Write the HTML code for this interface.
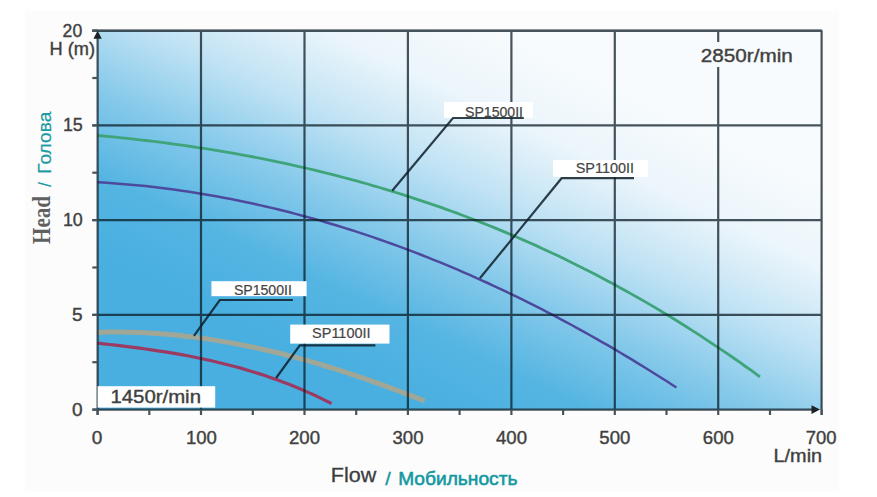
<!DOCTYPE html>
<html><head><meta charset="utf-8"><style>
html,body{margin:0;padding:0;background:#ffffff;}
svg{display:block;}
text{font-family:"Liberation Sans",sans-serif;}
</style></head><body>
<svg width="877" height="497" viewBox="0 0 877 497">
<defs>
<linearGradient id="dg" gradientUnits="userSpaceOnUse" x1="460.0" y1="431.8" x2="623.0" y2="90.1">
<stop offset="0" stop-color="#48afe0"/>
<stop offset="0.2" stop-color="#55b5e2"/>
<stop offset="0.4" stop-color="#85c9ea"/>
<stop offset="0.6" stop-color="#bfe2f4"/>
<stop offset="0.8" stop-color="#ebf5fb"/>
<stop offset="1.0" stop-color="#f7fbfd"/>
</linearGradient>
</defs>
<rect x="0" y="0" width="877" height="497" fill="#ffffff"/>
<rect x="25" y="11" width="814" height="481" fill="#fcfcfc"/>
<rect x="97.6" y="30.6" width="724.1" height="379" fill="url(#dg)"/>
<path d="M97.6,135.5 L103.6,136.0 L109.6,136.6 L115.6,137.2 L121.6,137.8 L127.6,138.4 L133.6,139.1 L139.6,139.8 L145.6,140.5 L151.6,141.2 L157.6,141.9 L163.6,142.7 L169.6,143.5 L175.6,144.3 L181.6,145.1 L187.6,146.0 L193.6,146.8 L199.6,147.8 L205.6,148.7 L211.6,149.6 L217.6,150.6 L223.6,151.6 L229.6,152.7 L235.6,153.7 L241.6,154.8 L247.6,155.9 L253.6,157.0 L259.6,158.2 L265.6,159.4 L271.6,160.6 L277.6,161.8 L283.6,163.1 L289.6,164.4 L295.6,165.8 L301.6,167.1 L307.6,168.5 L313.6,169.9 L319.6,171.4 L325.6,172.8 L331.6,174.3 L337.6,175.9 L343.6,177.5 L349.6,179.1 L355.6,180.7 L361.6,182.3 L367.6,184.0 L373.6,185.8 L379.6,187.5 L385.6,189.3 L391.6,191.1 L397.6,193.0 L403.6,194.9 L409.6,196.8 L415.6,198.8 L421.6,200.8 L427.6,202.8 L433.6,204.8 L439.6,206.9 L445.6,209.1 L451.6,211.2 L457.6,213.4 L463.6,215.7 L469.6,218.0 L475.6,220.3 L481.6,222.6 L487.6,225.0 L493.6,227.4 L499.6,229.9 L505.6,232.4 L511.6,234.9 L517.6,237.5 L523.6,240.1 L529.6,242.8 L535.6,245.4 L541.6,248.2 L547.6,251.0 L553.6,253.8 L559.6,256.6 L565.6,259.5 L571.6,262.4 L577.6,265.4 L583.6,268.4 L589.6,271.5 L595.6,274.6 L601.6,277.7 L607.6,280.9 L613.6,284.1 L619.6,287.4 L625.6,290.7 L631.6,294.1 L637.6,297.5 L643.6,300.9 L649.6,304.4 L655.6,307.9 L661.6,311.5 L667.6,315.1 L673.6,318.8 L679.6,322.5 L685.6,326.3 L691.6,330.1 L697.6,333.9 L703.6,337.8 L709.6,341.8 L715.6,345.8 L721.6,349.8 L727.6,353.9 L733.6,358.0 L739.6,362.2 L745.6,366.5 L751.6,370.7 L757.6,375.1 L760.0,376.8" stroke="#40a47b" stroke-width="2.8" fill="none"/>
<path d="M97.6,182.2 L103.6,182.5 L109.6,182.9 L115.6,183.4 L121.6,183.9 L127.6,184.4 L133.6,184.9 L139.6,185.5 L145.6,186.1 L151.6,186.8 L157.6,187.5 L163.6,188.2 L169.6,189.0 L175.6,189.8 L181.6,190.7 L187.6,191.6 L193.6,192.5 L199.6,193.4 L205.6,194.4 L211.6,195.5 L217.6,196.5 L223.6,197.7 L229.6,198.8 L235.6,200.0 L241.6,201.2 L247.6,202.5 L253.6,203.8 L259.6,205.1 L265.6,206.5 L271.6,207.9 L277.6,209.3 L283.6,210.8 L289.6,212.3 L295.6,213.9 L301.6,215.5 L307.6,217.1 L313.6,218.7 L319.6,220.4 L325.6,222.2 L331.6,224.0 L337.6,225.8 L343.6,227.6 L349.6,229.5 L355.6,231.4 L361.6,233.4 L367.6,235.4 L373.6,237.4 L379.6,239.5 L385.6,241.6 L391.6,243.7 L397.6,245.9 L403.6,248.1 L409.6,250.4 L415.6,252.7 L421.6,255.0 L427.6,257.4 L433.6,259.8 L439.6,262.2 L445.6,264.7 L451.6,267.2 L457.6,269.7 L463.6,272.3 L469.6,274.9 L475.6,277.6 L481.6,280.3 L487.6,283.0 L493.6,285.8 L499.6,288.6 L505.6,291.4 L511.6,294.3 L517.6,297.2 L523.6,300.2 L529.6,303.1 L535.6,306.2 L541.6,309.2 L547.6,312.3 L553.6,315.4 L559.6,318.6 L565.6,321.8 L571.6,325.0 L577.6,328.3 L583.6,331.6 L589.6,335.0 L595.6,338.4 L601.6,341.8 L607.6,345.2 L613.6,348.7 L619.6,352.3 L625.6,355.8 L631.6,359.4 L637.6,363.1 L643.6,366.7 L649.6,370.5 L655.6,374.2 L661.6,378.0 L667.6,381.8 L673.6,385.7 L676.4,387.5" stroke="#4d4a9e" stroke-width="2.5" fill="none"/>
<path d="M97.6,332.4 L103.6,332.2 L109.6,332.1 L115.6,332.1 L121.6,332.1 L127.6,332.2 L133.6,332.3 L139.6,332.6 L145.6,332.8 L151.6,333.2 L157.6,333.5 L163.6,334.0 L169.6,334.5 L175.6,335.1 L181.6,335.7 L187.6,336.4 L193.6,337.1 L199.6,337.9 L205.6,338.7 L211.6,339.6 L217.6,340.6 L223.6,341.6 L229.6,342.6 L235.6,343.7 L241.6,344.9 L247.6,346.1 L253.6,347.3 L259.6,348.6 L265.6,350.0 L271.6,351.4 L277.6,352.8 L283.6,354.3 L289.6,355.9 L295.6,357.4 L301.6,359.1 L307.6,360.7 L313.6,362.4 L319.6,364.2 L325.6,366.0 L331.6,367.8 L337.6,369.7 L343.6,371.6 L349.6,373.6 L355.6,375.6 L361.6,377.6 L367.6,379.7 L373.6,381.8 L379.6,383.9 L385.6,386.1 L391.6,388.3 L397.6,390.5 L403.6,392.8 L409.6,395.1 L415.6,397.4 L421.6,399.8 L424.6,401.0" stroke="#b0a68a" stroke-width="5" fill="none" opacity="0.85"/>
<path d="M97.6,343.2 L103.6,343.8 L109.6,344.5 L115.6,345.2 L121.6,345.9 L127.6,346.6 L133.6,347.4 L139.6,348.2 L145.6,349.0 L151.6,349.9 L157.6,350.8 L163.6,351.7 L169.6,352.7 L175.6,353.7 L181.6,354.7 L187.6,355.8 L193.6,357.0 L199.6,358.2 L205.6,359.5 L211.6,360.8 L217.6,362.2 L223.6,363.7 L229.6,365.2 L235.6,366.8 L241.6,368.4 L247.6,370.2 L253.6,372.0 L259.6,373.9 L265.6,375.8 L271.6,377.9 L277.6,380.0 L283.6,382.3 L289.6,384.6 L295.6,387.0 L301.6,389.5 L307.6,392.1 L313.6,394.8 L319.6,397.6 L325.6,400.6 L331.5,403.5" stroke="#9c3a62" stroke-width="3.2" fill="none"/>
<g opacity="0.74"><g stroke="#0a1a24" stroke-width="2.2" fill="none"><line x1="201.0" y1="30.6" x2="201.0" y2="409.6"/><line x1="304.5" y1="30.6" x2="304.5" y2="409.6"/><line x1="407.9" y1="30.6" x2="407.9" y2="409.6"/><line x1="511.4" y1="30.6" x2="511.4" y2="409.6"/><line x1="614.8" y1="30.6" x2="614.8" y2="409.6"/><line x1="718.2" y1="30.6" x2="718.2" y2="409.6"/><line x1="92.3" y1="314.9" x2="821.7" y2="314.9"/><line x1="92.3" y1="220.1" x2="821.7" y2="220.1"/><line x1="92.3" y1="125.4" x2="821.7" y2="125.4"/><line x1="92.3" y1="30.6" x2="821.7" y2="30.6"/></g>
<g stroke="#0a1a24" stroke-width="2.2" fill="none" stroke-linejoin="round"><line x1="97.6" y1="409.6" x2="97.6" y2="415"/><line x1="149.3" y1="409.6" x2="149.3" y2="415"/><line x1="201.0" y1="409.6" x2="201.0" y2="415"/><line x1="252.8" y1="409.6" x2="252.8" y2="415"/><line x1="304.5" y1="409.6" x2="304.5" y2="415"/><line x1="356.2" y1="409.6" x2="356.2" y2="415"/><line x1="407.9" y1="409.6" x2="407.9" y2="415"/><line x1="459.6" y1="409.6" x2="459.6" y2="415"/><line x1="511.4" y1="409.6" x2="511.4" y2="415"/><line x1="563.1" y1="409.6" x2="563.1" y2="415"/><line x1="614.8" y1="409.6" x2="614.8" y2="415"/><line x1="666.5" y1="409.6" x2="666.5" y2="415"/><line x1="718.2" y1="409.6" x2="718.2" y2="415"/><line x1="770.0" y1="409.6" x2="770.0" y2="415"/><line x1="821.7" y1="409.6" x2="821.7" y2="415"/><line x1="92.3" y1="409.6" x2="97.6" y2="409.6"/><line x1="92.3" y1="362.2" x2="97.6" y2="362.2"/><line x1="92.3" y1="314.9" x2="97.6" y2="314.9"/><line x1="92.3" y1="267.5" x2="97.6" y2="267.5"/><line x1="92.3" y1="220.1" x2="97.6" y2="220.1"/><line x1="92.3" y1="172.7" x2="97.6" y2="172.7"/><line x1="92.3" y1="125.4" x2="97.6" y2="125.4"/><line x1="92.3" y1="78.0" x2="97.6" y2="78.0"/><line x1="92.3" y1="30.6" x2="97.6" y2="30.6"/>
<line x1="97.6" y1="33" x2="97.6" y2="415"/>
<line x1="92.3" y1="409.6" x2="815" y2="409.6"/>
<path d="M92.3,30.8 L821.6,30.8 L821.6,415"/>
</g></g>
<path d="M97.6,30.8 L93.4,38.8 L101.8,38.8 Z" fill="#1c2226"/>
<path d="M820,409.6 L811.5,405.2 L811.5,414 Z" fill="#1c2226"/>
<!-- labels -->
<g fill="#ffffff">
<rect x="444" y="102" width="89" height="16"/>
<rect x="553" y="160" width="95" height="17"/>
<rect x="211.4" y="281.2" width="95.2" height="15"/>
<rect x="290.2" y="324.6" width="99.3" height="19"/>
<rect x="97.6" y="386.2" width="117.6" height="21.4"/>
<rect x="692" y="42" width="108" height="25" fill="#f8fbfd"/>
</g>
<g stroke="#0e1e2a" stroke-opacity="0.85" stroke-width="2.2" fill="none">
<path d="M392.2,190.7 L453,118 L523.8,118"/>
<path d="M479.9,278.3 L561.6,178.2 L634,178.2"/>
<path d="M193.9,335.8 L219.8,300 L292.9,300"/>
<path d="M276.1,378 L299.8,345.3 L375.4,345.3"/>
</g>
<g fill="#454545" font-size="14" stroke="#454545" stroke-width="0.2">
<text x="465" y="116.5" textLength="58" lengthAdjust="spacingAndGlyphs">SP1500II</text>
<text x="575.7" y="172.8" textLength="58.3" lengthAdjust="spacingAndGlyphs">SP1100II</text>
<text x="233.9" y="295" textLength="58" lengthAdjust="spacingAndGlyphs">SP1500II</text>
<text x="312.1" y="338.3" textLength="58.4" lengthAdjust="spacingAndGlyphs">SP1100II</text>
</g>
<g fill="#404040" font-size="19" stroke="#404040" stroke-width="0.4">
<text x="700.8" y="61.5" textLength="92" lengthAdjust="spacingAndGlyphs">2850r/min</text>
<text x="110.4" y="403" textLength="90.6" lengthAdjust="spacingAndGlyphs">1450r/min</text>
<text x="62.6" y="37" textLength="19.6" lengthAdjust="spacingAndGlyphs">20</text>
<text x="49.6" y="55" textLength="45.5" lengthAdjust="spacingAndGlyphs">H (m)</text>
<text x="62.9" y="131.3" textLength="19.9" lengthAdjust="spacingAndGlyphs">15</text>
<text x="62.9" y="226.3" textLength="19.9" lengthAdjust="spacingAndGlyphs">10</text>
<text x="82.5" y="321" text-anchor="end">5</text>
<text x="82.5" y="416" text-anchor="end">0</text>
<text x="91.8" y="444" textLength="10.6" lengthAdjust="spacingAndGlyphs">0</text>
<text x="185.9" y="444" textLength="31" lengthAdjust="spacingAndGlyphs">100</text>
<text x="289" y="444" textLength="31" lengthAdjust="spacingAndGlyphs">200</text>
<text x="392.5" y="444" textLength="31" lengthAdjust="spacingAndGlyphs">300</text>
<text x="496" y="444" textLength="31" lengthAdjust="spacingAndGlyphs">400</text>
<text x="599.3" y="444" textLength="31" lengthAdjust="spacingAndGlyphs">500</text>
<text x="702.8" y="444" textLength="31" lengthAdjust="spacingAndGlyphs">600</text>
<text x="805.7" y="444" textLength="30.8" lengthAdjust="spacingAndGlyphs">700</text>
<text x="773.5" y="462" textLength="48.6" lengthAdjust="spacingAndGlyphs">L/min</text>
</g>
<text x="330.8" y="482" font-size="21" fill="#3c3c3c" stroke="#3c3c3c" stroke-width="0.3" textLength="45.5" lengthAdjust="spacingAndGlyphs">Flow</text>
<text x="385.2" y="484.5" font-size="18" fill="#1398a2" stroke="#1398a2" stroke-width="0.4" textLength="5.5" lengthAdjust="spacingAndGlyphs">/</text>
<text x="398.2" y="484.5" font-size="18" fill="#1398a2" stroke="#1398a2" stroke-width="0.55" textLength="119.2" lengthAdjust="spacingAndGlyphs">Мобильность</text>
<g transform="translate(50.0,244.0) rotate(-90)">
<text x="0" y="0" font-weight="bold" font-size="26" fill="#606060" textLength="48" lengthAdjust="spacingAndGlyphs" style="font-family:'Liberation Serif',serif">Head</text>
<text x="57" y="0.5" font-size="17.5" fill="#1a9aa2" textLength="5" lengthAdjust="spacingAndGlyphs">/</text>
<text x="70.3" y="0.5" font-size="17.5" fill="#1a9aa2" stroke="#1a9aa2" stroke-width="0.2" textLength="62" lengthAdjust="spacingAndGlyphs">Голова</text>
</g>
</svg>
</body></html>
